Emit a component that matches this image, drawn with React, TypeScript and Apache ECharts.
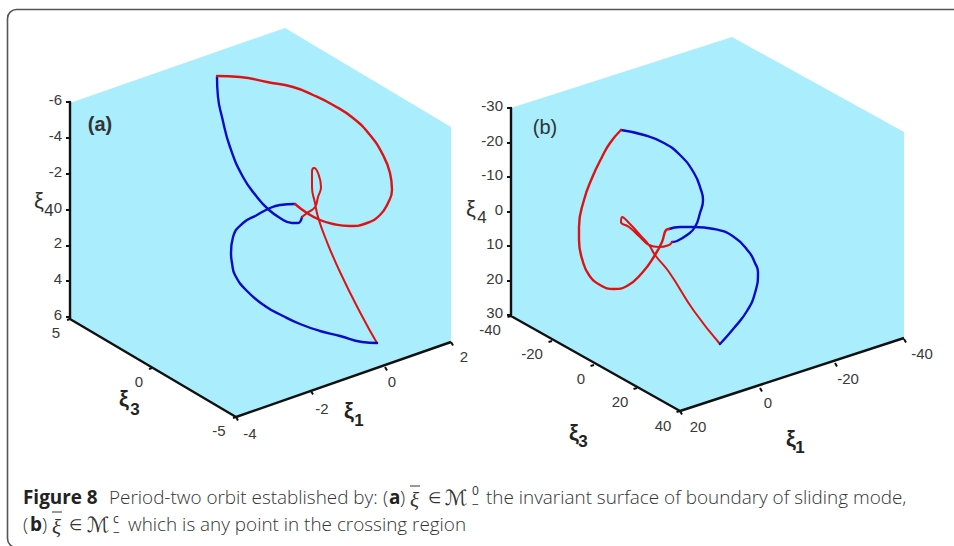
import React, { useEffect, useRef } from "react";
import * as echarts from "echarts";

// Panel (a): projected 3-D plot, points as [horizontal, vertical] plot units
const floorA = [[285, 28], [451, 127], [451, 342], [236, 417], [70, 319], [70, 103]];
const blueA1 = [[217, 77], [218, 97], [222, 117], [230, 147], [243, 177], [257, 197], [268, 209], [280, 218], [292, 223], [298, 223], [302, 217]];
const redA1 = [[302, 217], [307, 213], [315, 207], [318, 197], [321, 187], [318, 173], [314, 168], [312, 172], [312, 187], [315, 203], [318, 217], [325, 237], [340, 272], [362, 316], [377, 343]];
const blueA2 = [[377, 343], [362, 342], [340, 336], [320, 331], [300, 324], [283, 316], [265, 306], [247, 291], [235, 275], [232, 263], [231, 253], [233, 237], [243, 223], [257, 215], [268, 209], [280, 205], [295, 204]];
const redA2 = [[295, 204], [307, 213], [320, 220], [333, 224], [350, 226], [367, 223], [380, 215], [388, 203], [392, 190], [390, 173], [383, 155], [370, 135], [353, 118], [333, 105], [313, 95], [293, 87], [267, 82], [240, 77], [217, 76]];

// Panel (b)
const floorB = [[732, 37], [904, 132], [904, 338], [680, 411], [511, 316], [511, 108]];
const blueB1 = [[621, 130], [644, 135], [664, 143], [680, 155], [694, 173], [701, 190], [703, 200], [700, 213], [695, 227], [687, 235], [677, 241], [672, 242]];
const redB1 = [[672, 242], [669, 245], [659, 247], [649, 245], [640, 237], [629, 227], [621, 222], [622, 217], [630, 224], [640, 235], [649, 245], [655, 255], [669, 272], [694, 311], [720, 344]];
const blueB2 = [[720, 344], [734, 328], [747, 311], [755, 293], [758, 272], [755, 263], [749, 252], [734, 237], [714, 229], [694, 227], [680, 227], [669, 229]];
const redB2 = [[669, 229], [666, 230], [662, 242], [655, 255], [642, 273], [627, 286], [614, 289], [600, 285], [589, 275], [583, 262], [579, 240], [579, 227], [584, 200], [592, 178], [602, 157], [610, 143], [621, 130]];

// Floor axes: tick labels and the ticks' places along the projected edges
const xi3LabelsA = ["5", "0", "-5"];
const xi1LabelsA = ["-4", "-2", "0", "2"];
const xi3LabelsB = ["-40", "-20", "0", "20", "40"];
const xi1LabelsB = ["20", "0", "-20", "-40"];
const xi3TicksA = [[70, 319], [152, 368], [236, 417]];
const xi1TicksA = [[236, 417], [311, 391], [385, 367], [451, 342]];
const xi3TicksB = [[511, 316], [552, 341], [594, 365], [637, 388], [680, 411]];
const xi1TicksB = [[680, 411], [760, 388], [835, 363], [904, 339]];

const BLUE = "#0c0cc8";
const RED = "#de1212";
const AXIS = "#111111";
const TICK_TEXT = "#3a3a3a";
const SANS = "'Liberation Sans', Arial, sans-serif";
const CAP = "'Open Sans', 'Noto Sans', sans-serif";

const orbit = (data: number[][], color: string, width = 2.4) => ({
  type: "line",
  data,
  xAxisIndex: 0,
  yAxisIndex: 0,
  smooth: 0.5,
  symbol: "none",
  clip: false,
  z: 4,
  lineStyle: { color, width, cap: "round", join: "round" },
});

const edge = (data: number[][]) => ({
  type: "line",
  data,
  xAxisIndex: 0,
  yAxisIndex: 0,
  symbol: "none",
  clip: false,
  z: 3,
  lineStyle: { color: AXIS, width: 2.4 },
});

const floor = (pts: number[][]) => ({
  type: "custom",
  coordinateSystem: "cartesian2d",
  xAxisIndex: 0,
  yAxisIndex: 0,
  data: [0],
  silent: true,
  z: 1,
  clip: false,
  renderItem: (_: any, api: any) => ({
    type: "polygon",
    shape: { points: pts.map((p) => api.coord(p)) },
    style: { fill: "#aaeefe", stroke: "none" },
  }),
});

const ticks = (pts: number[][], dx: number, dy: number) => ({
  type: "custom",
  coordinateSystem: "cartesian2d",
  xAxisIndex: 0,
  yAxisIndex: 0,
  data: pts,
  silent: true,
  z: 3,
  clip: false,
  renderItem: (_: any, api: any) => {
    const a = api.coord([api.value(0), api.value(1)]);
    return {
      type: "line",
      shape: { x1: a[0], y1: a[1], x2: a[0] + dx, y2: a[1] + dy },
      style: { stroke: AXIS, lineWidth: 2 },
    };
  },
});

const txt = (text: string, x: number, y: number, font: string, fill = TICK_TEXT, align = "center") => ({
  type: "text",
  z: 10,
  style: { text, x, y, font, fill, align, verticalAlign: "middle", textAlign: align, textVerticalAlign: "middle" },
});
const place = (labels: string[], at: number[][]) =>
  labels.map((l, i) => txt(l, at[i][0], at[i][1], `15px ${SANS}`));
const bar = (x1: number, x2: number, y: number) => ({
  type: "line",
  z: 10,
  shape: { x1, y1: y, x2, y2: y },
  style: { stroke: "#333", lineWidth: 1 },
});

const yAxisFor = (gridIndex: number, min: number, max: number, interval: number) => ({
  type: "value",
  gridIndex,
  inverse: true,
  min,
  max,
  interval,
  z: 5,
  axisLine: { show: true, onZero: false, lineStyle: { color: AXIS, width: 2.4 } },
  axisTick: { show: true, length: 4, lineStyle: { color: AXIS, width: 2 } },
  axisLabel: {
    margin: 8,
    formatter: "{v|{value}}",
    rich: { v: { color: TICK_TEXT, fontFamily: SANS, fontSize: 15, padding: [0, 0, 5, 0] } },
  },
  splitLine: { show: false },
});

export default function App() {
  const ref = useRef<HTMLDivElement>(null);
  useEffect(() => {
    document.body.style.margin = "0";
    const chart = echarts.init(ref.current!, undefined, { renderer: "svg" });
    const cap = `300 18.9px ${CAP}`;
    const capB = `700 18.9px ${CAP}`;
    const math = `italic 21px 'Liberation Serif', serif`;
    const script = `21px 'DejaVu Sans', sans-serif`;
    const member = `15px 'DejaVu Sans', sans-serif`;
    const small = `12px ${CAP}`;
    chart.setOption({
      animation: false,
      backgroundColor: "#ffffff",
      grid: [
        { left: 0, top: 0, width: 954, height: 546, show: false },
        { left: 70, top: 102, width: 10, height: 215, show: false },
        { left: 511, top: 108, width: 10, height: 207, show: false },
      ],
      xAxis: [
        { type: "value", gridIndex: 0, min: 0, max: 954, show: false },
        { type: "value", gridIndex: 1, min: 0, max: 1, show: false },
        { type: "value", gridIndex: 2, min: 0, max: 1, show: false },
      ],
      yAxis: [
        { type: "value", gridIndex: 0, min: 0, max: 546, inverse: true, show: false },
        yAxisFor(1, -6, 6, 2),
        yAxisFor(2, -30, 30, 10),
      ],
      series: [
        floor(floorA),
        floor(floorB),
        edge([[70, 317], [70, 319], [236, 417], [451, 342]]),
        edge([[511, 315], [511, 316], [680, 411], [904, 338]]),
        ticks(xi3TicksA, -3, 1),
        ticks(xi1TicksA, 2, 3.5),
        ticks(xi3TicksB, -3.5, 1),
        ticks(xi1TicksB, 2, 3.5),
        orbit(blueA1, BLUE),
        orbit(redA1, RED, 2),
        orbit(blueA2, BLUE),
        orbit(redA2, RED),
        orbit(blueB1, BLUE),
        orbit(redB1, RED, 2),
        orbit(blueB2, BLUE),
        orbit(redB2, RED),
      ],
      graphic: [
        {
          type: "rect",
          z: 0,
          shape: { x: 7.5, y: 9.5, width: 1000, height: 538, r: 9 },
          style: { fill: "none", stroke: "#555555", lineWidth: 1.6 },
        },
        ...place(xi3LabelsA, [[56, 332], [139, 381], [219, 430]]),
        ...place(xi1LabelsA, [[250, 433], [322, 408], [392, 381], [464, 356]]),
        ...place(xi3LabelsB, [[490, 329], [532, 353], [581, 378], [620, 401], [663, 425]]),
        ...place(xi1LabelsB, [[698, 426], [768, 402], [848, 378], [922, 353]]),
        txt("(a)", 100, 124, `700 20px ${SANS}`, "#333"),
        txt("(b)", 545, 127, `20px ${SANS}`, "#333"),
        txt("ξ", 39, 200, `22px ${SANS}`, "#333"),
        txt("4", 49, 210, `17px ${SANS}`, "#333"),
        txt("ξ", 471, 208, `22px ${SANS}`, "#333"),
        txt("4", 482, 217, `17px ${SANS}`, "#333"),
        txt("ξ", 124, 398, `700 22px ${SANS}`, "#222"),
        txt("3", 135, 409, `700 17px ${SANS}`, "#222"),
        txt("ξ", 349, 410, `700 22px ${SANS}`, "#222"),
        txt("1", 359, 420, `700 17px ${SANS}`, "#222"),
        txt("ξ", 574, 432, `700 22px ${SANS}`, "#222"),
        txt("3", 583, 441, `700 17px ${SANS}`, "#222"),
        txt("ξ", 791, 438, `700 22px ${SANS}`, "#222"),
        txt("1", 800, 447, `700 17px ${SANS}`, "#222"),
        // caption
        txt("Figure 8", 23, 497, capB, "#222", "left"),
        txt("Period-two orbit established by:", 109, 497, cap, "#333", "left"),
        txt("(", 383, 497, cap, "#333", "left"),
        txt("a", 389, 497, capB, "#222", "left"),
        txt(")", 400, 497, cap, "#333", "left"),
        txt("ξ", 410, 500, math, "#333", "left"),
        bar(410, 420, 486),
        txt("∈", 428, 498, member, "#333", "left"),
        txt("ℳ", 445, 498, script, "#333", "left"),
        txt("0", 472, 490, small, "#333", "left"),
        txt("−", 472, 504, small, "#333", "left"),
        txt("the invariant surface of boundary of sliding mode,", 486, 497, cap, "#333", "left"),
        txt("(", 23, 524, cap, "#333", "left"),
        txt("b", 30, 524, capB, "#222", "left"),
        txt(")", 42, 524, cap, "#333", "left"),
        txt("ξ", 52, 527, math, "#333", "left"),
        bar(52, 62, 512),
        txt("∈", 69, 525, member, "#333", "left"),
        txt("ℳ", 87, 525, script, "#333", "left"),
        txt("c", 113, 518, small, "#333", "left"),
        txt("−", 113, 532, small, "#333", "left"),
        txt("which is any point in the crossing region", 128, 524, cap, "#333", "left"),
      ],
    });
    return () => chart.dispose();
  }, []);
  return <div ref={ref} style={{ width: 954, height: 546 }} />;
}
